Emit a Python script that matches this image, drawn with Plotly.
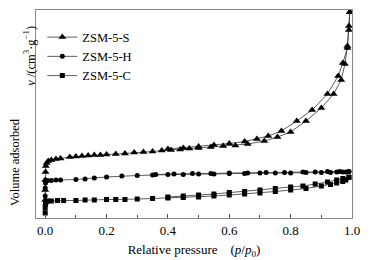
import plotly.graph_objects as go

# ZSM-5-S (triangles): adsorption and desorption branches
S_ads_p = [0.000, 0.000, 0.000, 0.001, 0.002, 0.005, 0.010, 0.020, 0.035, 0.050, 0.080, 0.100, 0.120,
           0.140, 0.160, 0.180, 0.200, 0.230, 0.260, 0.290, 0.320, 0.350, 0.380, 0.410, 0.440, 0.470,
           0.500, 0.540, 0.580, 0.620, 0.660, 0.714, 0.757, 0.800, 0.850, 0.900, 0.940, 0.965, 0.977,
           0.985, 0.990, 0.993]
S_ads_v = [18, 28, 38, 46, 52, 55, 57, 58, 59, 59.5, 61, 61.5, 62,
           62.5, 63, 63, 63.5, 64, 64.5, 65.5, 66, 66.5, 67.5, 68, 68.5, 69.5,
           70, 71, 72, 72.5, 74, 77, 81, 86, 97, 110, 124, 138, 154,
           172, 192, 206]
S_des_p = [0.993, 0.990, 0.985, 0.970, 0.955, 0.920, 0.870, 0.820, 0.770, 0.727, 0.690, 0.650,
           0.600, 0.550, 0.500, 0.450, 0.400]
S_des_v = [206, 188, 170, 155, 142, 124, 108, 97, 87, 82, 79, 76.5,
           74.5, 73, 71.5, 70, 69]

# ZSM-5-H (circles)
H_ads_p = [0.000, 0.000, 0.000, 0.001, 0.003, 0.008, 0.020, 0.035, 0.050, 0.100, 0.130, 0.160, 0.200,
           0.250, 0.300, 0.350, 0.400, 0.450, 0.500, 0.550, 0.600, 0.650, 0.700, 0.750, 0.800, 0.850,
           0.900, 0.930, 0.950, 0.970, 0.980, 0.990]
H_ads_v = [13, 22, 30, 35, 37, 37.5, 37.5, 38, 38, 38.5, 39, 40, 41,
           42, 42.5, 43, 43.5, 43.5, 44, 44, 44.5, 44.5, 45, 45, 45, 45.5,
           45.5, 45.5, 46, 46, 46, 46.5]
H_des_p = [0.990, 0.960, 0.920, 0.880, 0.840, 0.780, 0.720, 0.660, 0.600, 0.540, 0.480, 0.420, 0.360]
H_des_v = [46.5, 46.5, 46.5, 46, 46, 45.5, 45.5, 45, 45, 44.5, 44.5, 44, 43.5]

# ZSM-5-C (squares)
C_ads_p = [0.000, 0.000, 0.001, 0.003, 0.008, 0.020, 0.040, 0.060, 0.100, 0.130, 0.160, 0.200, 0.230,
           0.260, 0.300, 0.350, 0.400, 0.450, 0.500, 0.550, 0.600, 0.650, 0.700, 0.750, 0.800, 0.850,
           0.900, 0.930, 0.950, 0.970, 0.980, 0.990]
C_ads_v = [5, 10, 14, 16, 17, 17, 17.5, 17.5, 17.5, 18, 18, 18.5, 18.5,
           18.5, 19, 19.5, 20, 20.5, 21, 22, 23, 24, 25, 26.5, 28, 29.5,
           32, 33.5, 35, 36.5, 38, 40.5]
C_des_p = [0.990, 0.970, 0.950, 0.920, 0.880, 0.840, 0.800, 0.750, 0.700, 0.650, 0.600, 0.550,
           0.500, 0.450, 0.400]
C_des_v = [41, 39.5, 38, 36, 34, 32, 31, 29.5, 28, 26.5, 25.5, 24,
           23, 22, 21]

series = [
    ("ZSM-5-S", "triangle-up", S_ads_p + S_des_p, S_ads_v + S_des_v, 7),
    ("ZSM-5-H", "circle", H_ads_p + H_des_p, H_ads_v + H_des_v, 5),
    ("ZSM-5-C", "square", C_ads_p + C_des_p, C_ads_v + C_des_v, 5),
]

x_tickvals = [0.0, 0.2, 0.4, 0.6, 0.8, 1.0]
x_ticktext = ["0.0", "0.2", "0.4", "0.6", "0.8", "1.0"]

FONT = "Liberation Serif, Times New Roman, serif"

fig = go.Figure()
for name, sym, px, pv, ms in series:
    fig.add_trace(go.Scatter(
        x=px, y=pv, name=name, mode="lines+markers",
        line=dict(color="#333333", width=0.8),
        marker=dict(symbol=sym, size=ms, color="black"),
    ))

# page body has an 8px default margin, so the figure is 8px smaller
fig.update_layout(
    width=363, height=252,
    margin=dict(l=28, r=19, t=2, b=42),
    paper_bgcolor="white", plot_bgcolor="white",
    font=dict(family=FONT, size=12, color="black"),
    showlegend=True,
    legend=dict(x=0.02, y=0.94, xanchor="left", yanchor="top",
                bgcolor="rgba(0,0,0,0)", font=dict(size=12.5, family=FONT),
                tracegroupgap=0, itemwidth=30),
    xaxis=dict(range=[-0.03, 1.0], tickvals=x_tickvals, ticktext=x_ticktext,
               ticks="inside", ticklen=4, tickcolor="#555555", automargin=False,
               minor=dict(tickvals=[0.1, 0.3, 0.5, 0.7, 0.9], ticks="inside", ticklen=3, tickcolor="#555555"),
               showline=True, linecolor="#888888", linewidth=1, mirror=True,
               showgrid=False, zeroline=False,
               tickfont=dict(size=13, family=FONT),
               title=dict(text="Relative pressure&nbsp;&nbsp;&nbsp;&nbsp;(<i>p</i>/<i>p</i><sub>0</sub>)",
                          font=dict(size=13, family=FONT), standoff=8)),
    yaxis=dict(range=[0, 208], showticklabels=False, ticks="", automargin=False,
               showline=True, linecolor="#888888", linewidth=1, mirror=True,
               showgrid=False, zeroline=False),
)

fig.add_annotation(text="Volume adsorbed", textangle=-90, xref="paper", yref="paper",
                   x=-0.066, y=0.27, xanchor="center", yanchor="middle", showarrow=False,
                   font=dict(size=12.5, family=FONT))
fig.add_annotation(text="<i>v</i> /(cm<sup>3</sup>·g<sup>−1</sup>)", textangle=-90, xref="paper", yref="paper",
                   x=-0.022, y=0.78, xanchor="center", yanchor="middle", showarrow=False,
                   font=dict(size=12.5, family=FONT))

fig.write_html("out.html")
